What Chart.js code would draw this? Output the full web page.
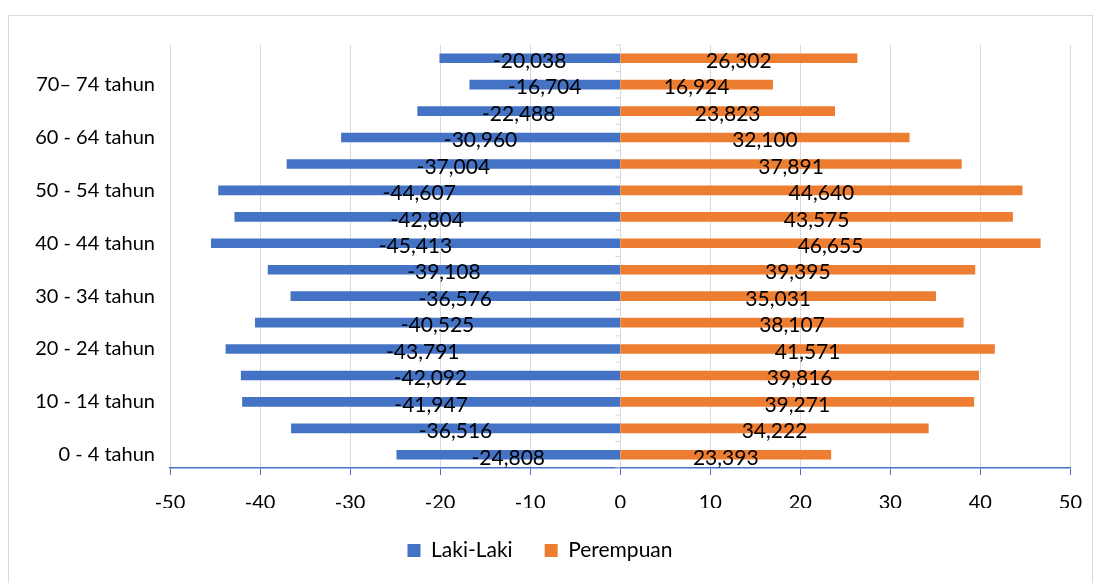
<!DOCTYPE html>
<html>
<head>
<meta charset="utf-8">
<script src="https://cdn.jsdelivr.net/npm/chart.js@4"></script>
<style>
  html, body { margin: 0; padding: 0; background: #fff; }
  #wrap { position: relative; width: 1098px; height: 583px; }
  #frame { position: absolute; left: 8px; top: 15px; width: 1085px; height: 580px; border: 1px solid #d9d9d9; box-sizing: border-box; }
  canvas { position: absolute; left: 0; top: 0; }
</style>
</head>
<body>
<div id="wrap">
  <div id="frame"></div>
  <canvas id="myChart" width="1098" height="583"></canvas>
</div>
<script>
// kelompok umur, dari bawah ke atas
const ageGroups = ['0 - 4 tahun', '5 - 9 tahun', '10 - 14 tahun', '15 - 19 tahun', '20 - 24 tahun',
  '25 - 29 tahun', '30 - 34 tahun', '35 - 39 tahun', '40 - 44 tahun', '45 - 49 tahun',
  '50 - 54 tahun', '55 - 59 tahun', '60 - 64 tahun', '65 - 69 tahun', '70\u2013 74 tahun', '75+ tahun'];

const lakiLaki = [-24.808, -36.516, -41.947, -42.092, -43.791, -40.525, -36.576, -39.108,
  -45.413, -42.804, -44.607, -37.004, -30.960, -22.488, -16.704, -20.038];

const perempuan = [23.393, 34.222, 39.271, 39.816, 41.571, 38.107, 35.031, 39.395,
  46.655, 43.575, 44.640, 37.891, 32.100, 23.823, 16.924, 26.302];

const xTicks = [-50, -40, -30, -20, -10, 0, 10, 20, 30, 40, 50];

const FONT = 'Lato';

/** label angka di tengah batang */
const barLabels = {
  id: 'barLabels',
  afterDatasetsDraw(chart) {
    const c = chart.ctx;
    c.save();
    c.font = '21px ' + FONT;
    c.fillStyle = '#000';
    c.textAlign = 'center';
    c.textBaseline = 'middle';
    chart.data.datasets.forEach((ds, i) => {
      chart.getDatasetMeta(i).data.forEach((bar, j) => {
        const txt = ds.data[j].toFixed(3).replace('.', ',');
        c.fillText(txt, (bar.x + bar.base) / 2, bar.y + 3);
      });
    });
    c.restore();
  }
};

/** garis sumbu tegak di nol */
const zeroAxis = {
  id: 'zeroAxis',
  afterDatasetsDraw(chart) {
    const c = chart.ctx;
    const x0 = chart.scales.x.getPixelForValue(0);
    const y = chart.scales.y;
    c.save();
    c.strokeStyle = '#d9d9d9';
    c.lineWidth = 1;
    c.beginPath();
    for (let k = 0; k <= ageGroups.length; k++) {
      const yy = y.top + k * (y.bottom - y.top) / ageGroups.length;
      c.moveTo(x0 - 5, yy);
      c.lineTo(x0, yy);
    }
    c.stroke();
    c.restore();
  }
};

let ctx = document.getElementById('myChart').getContext('2d');

const data = {
  labels: ageGroups,
  datasets: [{
    label: 'Laki-Laki',
    data: lakiLaki,
    backgroundColor: '#4472C4',
    barThickness: 9
  }, {
    label: 'Perempuan',
    data: perempuan,
    backgroundColor: '#ED7D31',
    barThickness: 9
  }]
};

const config = {
  type: 'bar',
  data: data,
  plugins: [barLabels, zeroAxis],
  options: {
    responsive: false,
    animation: false,
    indexAxis: 'y',
    layout: { padding: { left: 8, right: 26, top: 45, bottom: 12 } },
    scales: {
      x: {
        stacked: true,
        min: -50,
        max: 50,
        afterBuildTicks(scale) { scale.ticks = xTicks.map(v => ({ value: v })); },
        afterFit(scale) { scale.height = 40; },
        grid: { color: '#d9d9d9', tickColor: '#4472C4', tickLength: 7 },
        border: { color: '#4472C4', width: 1.5 },
        ticks: { font: { size: 20, family: FONT }, color: '#000', padding: 16 }
      },
      y: {
        stacked: true,
        reverse: true,
        afterFit(scale) { scale.width = 162; },
        grid: { display: false },
        border: { display: false },
        ticks: {
          autoSkip: false,
          font: { size: 20, family: FONT },
          color: '#000',
          padding: 7,
          callback: (v, i) => (i % 2 === 0 ? ageGroups[i] : '')
        }
      }
    },
    plugins: {
      legend: {
        position: 'bottom',
        labels: { boxWidth: 13, boxHeight: 13, padding: 32, color: '#000', font: { size: 21, family: FONT } }
      },
      tooltip: { enabled: false }
    }
  }
};

let chart = new Chart(ctx, config);
</script>
</body>
</html>
